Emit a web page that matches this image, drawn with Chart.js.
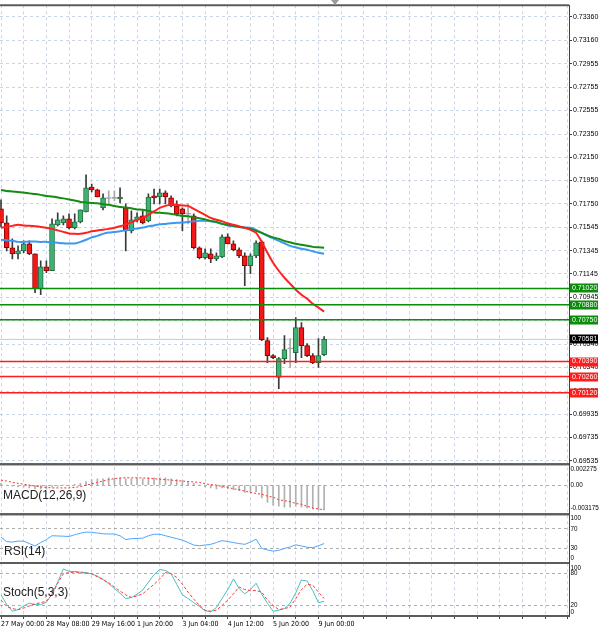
<!DOCTYPE html>
<html>
<head>
<meta charset="utf-8">
<script src="https://cdn.jsdelivr.net/npm/chart.js@4.4.1/dist/chart.umd.min.js"></script>
<style>
  html, body { margin: 0; padding: 0; background: #fff; }
</style>
</head>
<body>
<canvas id="chart" width="600" height="631"></canvas>
<script>
// H4 candles, 27 May 00:00 .. 9 Jun 04:00
const openP = [0.71705,0.71585,0.71370,0.71318,0.71344,0.71404,0.71318,0.71017,0.71206,0.71172,
  0.71568,0.71585,0.71619,0.71542,0.71593,0.71679,0.71894,0.71869,0.71714,0.71795,
  0.71796,0.71791,0.71714,0.71516,0.71611,0.71645,0.71602,0.71817,0.71808,0.71843,
  0.71800,0.71731,0.71705,0.71660,0.71645,0.71370,0.71284,0.71318,0.71275,0.71292,
  0.71464,0.71404,0.71353,0.71301,0.71215,0.71301,0.71421,0.70570,0.70441,0.70252,
  0.70415,0.70499,0.70467,0.70682,0.70527,0.70441,0.70381,0.70450];
const highP = [0.71783,0.71645,0.71447,0.71387,0.71430,0.71430,0.71318,0.71258,0.71258,0.71619,
  0.71671,0.71645,0.71662,0.71662,0.71697,0.71998,0.71920,0.71877,0.71834,0.71860,
  0.71860,0.71886,0.71748,0.71688,0.71671,0.71688,0.71834,0.71877,0.71877,0.71860,
  0.71817,0.71774,0.71714,0.71748,0.71662,0.71378,0.71361,0.71361,0.71327,0.71482,
  0.71490,0.71430,0.71370,0.71327,0.71318,0.71430,0.71430,0.70596,0.70450,0.70424,
  0.70613,0.70587,0.70768,0.70725,0.70544,0.70458,0.70587,0.70604];
const lowP = [0.71550,0.71344,0.71275,0.71275,0.71327,0.71310,0.70983,0.70966,0.71155,0.71172,
  0.71559,0.71568,0.71533,0.71533,0.71585,0.71679,0.71851,0.71808,0.71697,0.71757,
  0.71774,0.71757,0.71344,0.71499,0.71593,0.71576,0.71593,0.71748,0.71748,0.71748,
  0.71722,0.71645,0.71516,0.71576,0.71361,0.71275,0.71275,0.71241,0.71258,0.71284,
  0.71404,0.71344,0.71284,0.71043,0.71146,0.71284,0.70570,0.70381,0.70415,0.70157,
  0.70372,0.70338,0.70381,0.70424,0.70432,0.70372,0.70338,0.70441];
const closeP = [0.71585,0.71370,0.71318,0.71344,0.71404,0.71318,0.71017,0.71206,0.71172,0.71576,
  0.71611,0.71619,0.71542,0.71593,0.71697,0.71886,0.71869,0.71808,0.71800,0.71795,
  0.71796,0.71808,0.71516,0.71611,0.71636,0.71585,0.71808,0.71800,0.71843,0.71808,
  0.71731,0.71662,0.71662,0.71660,0.71370,0.71284,0.71327,0.71275,0.71301,0.71464,
  0.71404,0.71353,0.71301,0.71215,0.71301,0.71413,0.70579,0.70441,0.70424,0.70415,
  0.70493,0.70499,0.70682,0.70527,0.70441,0.70381,0.70441,0.70581];

// moving averages
const maSlow = [0.71869,0.71860,0.71856,0.71851,0.71847,0.71839,0.71834,0.71826,0.71817,0.71813,
  0.71804,0.71796,0.71787,0.71778,0.71765,0.71761,0.71757,0.71753,0.71746,0.71740,
  0.71731,0.71722,0.71718,0.71710,0.71701,0.71697,0.71688,0.71675,0.71671,0.71667,
  0.71662,0.71654,0.71645,0.71641,0.71632,0.71624,0.71615,0.71602,0.71593,0.71576,
  0.71568,0.71559,0.71550,0.71542,0.71533,0.71516,0.71499,0.71477,0.71460,0.71447,
  0.71430,0.71417,0.71404,0.71396,0.71387,0.71378,0.71374,0.71370];
const maMid = [0.71439,0.71434,0.71430,0.71421,0.71421,0.71424,0.71424,0.71421,0.71421,0.71417,
  0.71413,0.71409,0.71407,0.71407,0.71421,0.71439,0.71460,0.71473,0.71490,0.71501,
  0.71507,0.71512,0.71520,0.71529,0.71537,0.71544,0.71555,0.71563,0.71572,0.71576,
  0.71581,0.71585,0.71587,0.71593,0.71598,0.71602,0.71602,0.71598,0.71589,0.71576,
  0.71563,0.71555,0.71550,0.71546,0.71542,0.71525,0.71499,0.71473,0.71451,0.71430,
  0.71409,0.71387,0.71374,0.71361,0.71353,0.71340,0.71327,0.71318];
const maFast = [0.71544,0.71550,0.71559,0.71568,0.71563,0.71559,0.71555,0.71550,0.71542,0.71533,
  0.71520,0.71507,0.71494,0.71490,0.71490,0.71499,0.71512,0.71520,0.71525,0.71533,
  0.71542,0.71555,0.71572,0.71589,0.71611,0.71628,0.71654,0.71684,0.71714,0.71731,
  0.71740,0.71740,0.71735,0.71731,0.71705,0.71679,0.71654,0.71628,0.71611,0.71598,
  0.71581,0.71568,0.71555,0.71542,0.71525,0.71499,0.71421,0.71327,0.71241,0.71172,
  0.71112,0.71060,0.71009,0.70966,0.70931,0.70888,0.70854,0.70820];

const resistLevels = [0.71020, 0.70880, 0.70750];
const supportLevels = [0.70390, 0.70260, 0.70120];

// MACD(12,26,9)
const macdHist = [0.0002,0.0000,-0.0001,-0.0002,-0.0002,-0.0003,-0.0004,-0.0004,-0.0004,-0.0002,
  -0.0001,0.0000,0.0000,0.0001,0.0002,0.0004,0.0006,0.0007,0.0007,0.0008,
  0.0008,0.0008,0.0007,0.0007,0.0008,0.0007,0.0008,0.0008,0.0008,0.0008,
  0.0007,0.0006,0.0005,0.0004,0.0002,0.0000,-0.0002,-0.0003,-0.0004,-0.0003,
  -0.0004,-0.0005,-0.0006,-0.0008,-0.0008,-0.0007,-0.0014,-0.0019,-0.0022,-0.0023,
  -0.0024,-0.0024,-0.0023,-0.0024,-0.0025,-0.0026,-0.0027,-0.0027];
const macdSignal = [0.00055,0.00045,0.0003,0.0002,0.0001,0.0,-0.0001,-0.0002,-0.00025,-0.0003,
  -0.0003,-0.0003,-0.0003,-0.00025,-0.00015,0.0,0.00015,0.0003,0.00045,0.0006,
  0.0007,0.00078,0.0008,0.0008,0.0008,0.00078,0.00076,0.0007,0.00065,0.0006,
  0.00055,0.0005,0.00045,0.0004,0.00035,0.0003,0.00015,0.00005,0.0,-0.00015,
  -0.00025,-0.0004,-0.0005,-0.00065,-0.0008,-0.0009,-0.001,-0.0012,-0.0013,-0.0016,
  -0.0017,-0.0018,-0.002,-0.0021,-0.0023,-0.0025,-0.0026,-0.0027];
const macdRange = [-0.003175, 0.002275];
const macdTickLabels = ['0.002275', '0.00', '-0.003175'];

// RSI(14)
const rsi = [53,44,43,45,45,40,35,42,48,56, 55.5,55,54.5,58,61,63.5,63,61.5,60,59.5,
  59.5,56,48,50,50.5,51,56,59,59,56, 53,50,47,42,37,35.5,37,38.4,42,46,
  44,42,40,38.4,43,49,30,27,24.5,26, 30,33,37.5,35,32.5,31.5,35.5,40];
const rsiLevels = [70, 30];
const rsiTickLabels = ['100', '70', '30', '0'];

// Stochastic(5,3,3)
const stochK = [40,22,9,12,19,24.5,21.5,21.5,26,42, 64,89,84.5,84,83,82,79.5,75.5,69,61,
  52,43,33,35,41,49,64,78,88,86, 80,60,40,33,25,18,10,8,16,33,
  50,70,52,42,50,62,41,24,9,11, 14,24,44,68,66,48,25,28];
const stochD = [30,18,14,12,15,19,23,25,28,40, 62,80,82,83,82,81,80,74,69,63,
  55,47,40,35,38,42,51,60,70,82, 80,73,60,45,32,20,11,9,11,20,
  30,42,55,50,48,48,45,30,20,12, 14,17,33,50,60,58,45,33];
const stochLevels = [80, 20];
const stochTickLabels = ['100', '80', '20', '0'];

// axis labels
const priceTicks = [0.73360,0.73160,0.72955,0.72755,0.72555,0.72350,0.72150,0.71950,0.71750,0.71545,
  0.71345,0.71145,0.70945,0.70740,0.70540,0.70340,0.70135,0.69935,0.69735,0.69535];
const timeLabels = ['27 May 00:00','28 May 08:00','29 May 16:00','1 Jun 20:00','3 Jun 04:00','4 Jun 12:00','5 Jun 20:00','9 Jun 00:00'];

const FONT = '"Liberation Sans", Arial, sans-serif';
const gridColor = 'rgba(165,185,210,0.6)';
const levelGrid = 'rgba(140,140,140,0.7)';
const X_MIN = -0.18, X_MAX = 100.2;

const idx = openP.map((_, i) => i);
const pts = arr => idx.map(i => ({ x: i, y: arr[i] }));
const flat = v => [{ x: X_MIN, y: v }, { x: X_MAX, y: v }];

function bodyFill(c) {
  const i = c.dataIndex;
  if (closeP[i] > openP[i]) return '#3cb371';
  if (closeP[i] < openP[i]) return '#f21818';
  return '#a0a0a0';
}
function bodyEdge(c) {
  const i = c.dataIndex;
  if (closeP[i] > openP[i]) return '#236b43';
  if (closeP[i] < openP[i]) return '#8b0000';
  return '#a0a0a0';
}

const datasets = [
  { type: 'bar', data: idx.map(i => ({ x: i, y: [lowP[i], highP[i]] })),
    backgroundColor: c => openP[c.dataIndex] === closeP[c.dataIndex] ? '#a8a8a8' : '#3a3a3a',
    barThickness: 1, grouped: false, order: 11, yAxisID: 'y' },
  { type: 'bar', data: idx.map(i => ({ x: i, y: [openP[i], closeP[i]] })),
    backgroundColor: bodyFill, borderColor: bodyEdge, borderWidth: 1, borderSkipped: false,
    barThickness: 5, minBarLength: 1, grouped: false, order: 10, yAxisID: 'y' },
  { type: 'line', data: pts(maSlow), borderColor: '#148c14', borderWidth: 2, pointRadius: 0, tension: 0.2, order: 4, yAxisID: 'y' },
  { type: 'line', data: pts(maMid), borderColor: '#3a98f0', borderWidth: 2, pointRadius: 0, tension: 0.2, order: 4, yAxisID: 'y' },
  { type: 'line', data: pts(maFast), borderColor: '#ff2020', borderWidth: 2, pointRadius: 0, tension: 0.2, order: 3, yAxisID: 'y' },
  { type: 'line', data: flat(closeP[closeP.length - 1]), borderColor: '#c4ccd6', borderWidth: 1, pointRadius: 0, order: 12, yAxisID: 'y' }
];
resistLevels.forEach(v => datasets.push({ type: 'line', data: flat(v), borderColor: '#0b8c0b', borderWidth: 1.5, pointRadius: 0, order: 1, yAxisID: 'y' }));
supportLevels.forEach(v => datasets.push({ type: 'line', data: flat(v), borderColor: '#ff1c1c', borderWidth: 1.5, pointRadius: 0, order: 1, yAxisID: 'y' }));

datasets.push(
  { type: 'bar', data: pts(macdHist), backgroundColor: '#b0b0b0', barThickness: 1, grouped: false, order: 6, yAxisID: 'yMacd' },
  { type: 'line', data: pts(macdSignal), borderColor: '#ff3030', borderWidth: 1, borderDash: [2, 2], pointRadius: 0, order: 5, yAxisID: 'yMacd' },
  { type: 'line', data: pts(rsi), borderColor: '#4fa6ff', borderWidth: 1, pointRadius: 0, order: 5, yAxisID: 'yRsi' },
  { type: 'line', data: pts(stochK), borderColor: '#45c2c2', borderWidth: 1, pointRadius: 0, order: 5, yAxisID: 'yStoch' },
  { type: 'line', data: pts(stochD), borderColor: '#ff3a3a', borderWidth: 1, borderDash: [3, 2], pointRadius: 0, order: 4, yAxisID: 'yStoch' }
);

const smallTicks = { font: { family: FONT, size: 6.3 }, color: '#000', padding: 1.5, autoSkip: false };

function subPanel(weight, min, max, labels, gridVals, top, bottom) {
  return {
    type: 'linear', position: 'right', stack: 'panels', stackWeight: weight,
    min: min, max: max,
    afterBuildTicks: s => {
      const r = s.max - s.min;
      const vals = [s.max - r * top].concat(gridVals, [s.min + r * bottom]);
      s.ticks = vals.map(v => ({ value: v }));
    },
    afterFit: s => { s.width = 31; },
    ticks: Object.assign({}, smallTicks, { callback: (v, i) => labels[i] }),
    grid: { drawTicks: false, color: c => (c.tick && gridVals.includes(c.tick.value)) ? levelGrid : 'transparent' },
    border: { display: true, color: '#404040', dash: [3, 3] }
  };
}

const panelDeco = {
  id: 'panelDeco',
  beforeDraw(chart) {
    const ctx = chart.ctx;
    ctx.save();
    ctx.fillStyle = '#fff';
    ctx.fillRect(0, 0, chart.width, chart.height);
    ctx.restore();
  },
  afterDraw(chart) {
    const { ctx, chartArea, scales } = chart;
    ctx.save();
    ctx.strokeStyle = '#5c5c5c';
    ctx.lineWidth = 2;
    ['y', 'yMacd', 'yRsi', 'yStoch'].forEach(id => {
      const s = scales[id];
      ctx.beginPath();
      ctx.moveTo(0, s.top); ctx.lineTo(chartArea.right, s.top);
      ctx.moveTo(0, s.bottom); ctx.lineTo(chartArea.right, s.bottom);
      ctx.stroke();
    });

    // indicator names
    ctx.fillStyle = '#222';
    ctx.font = '12px ' + FONT;
    ctx.textBaseline = 'middle';
    ctx.textAlign = 'left';
    ctx.fillText('MACD(12,26,9)', 3, scales.yMacd.top + 31);
    ctx.fillText('RSI(14)', 4, scales.yRsi.top + 37);
    ctx.fillText('Stoch(5,3,3)', 3, scales.yStoch.top + 30);

    // price tags on the right axis
    ctx.font = '7px ' + FONT;
    const tag = (v, fill) => {
      const py = scales.y.getPixelForValue(v);
      ctx.fillStyle = fill;
      ctx.fillRect(chartArea.right + 1, Math.round(py) - 4.5, 28, 9);
      ctx.fillStyle = '#fff';
      ctx.fillText(v.toFixed(5), chartArea.right + 3, py);
    };
    resistLevels.forEach(v => tag(v, '#0b8c0b'));
    supportLevels.forEach(v => tag(v, '#ff1c1c'));
    tag(closeP[closeP.length - 1], '#000');

    // chart shift marker
    ctx.fillStyle = '#9a9a9a';
    ctx.beginPath();
    ctx.moveTo(331, 0); ctx.lineTo(339, 0); ctx.lineTo(335, 5); ctx.closePath();
    ctx.fill();
    ctx.restore();
  }
};

new Chart(document.getElementById('chart'), {
  type: 'bar',
  data: { datasets: datasets },
  options: {
    responsive: false,
    animation: false,
    events: [],
    layout: { padding: { top: 4, left: 0, right: 0, bottom: 0 } },
    plugins: { legend: { display: false }, tooltip: { enabled: false } },
    scales: {
      x: {
        type: 'linear', min: X_MIN, max: X_MAX, offset: false,
        afterBuildTicks: s => {
          const t = [];
          for (let i = 0; i <= 100; i += 4) t.push({ value: i });
          s.ticks = t;
        },
        afterFit: s => { s.height = 15; },
        ticks: {
          autoSkip: false, maxRotation: 0, align: 'start', padding: 1,
          font: { family: '"Liberation Sans Narrow", "DejaVu Sans Condensed", sans-serif', size: 7 }, color: '#000',
          callback: v => (v % 8 === 0 && timeLabels[v / 8]) || ''
        },
        grid: { offset: false, color: gridColor, tickColor: '#404040', tickLength: 3 },
        border: { display: true, color: '#404040', dash: [3, 3] }
      },
      y: {
        type: 'linear', position: 'right', stack: 'panels', stackWeight: 460,
        min: 0.69504, max: 0.73460,
        afterBuildTicks: s => { s.ticks = priceTicks.map(v => ({ value: v })); },
        afterFit: s => { s.width = 31; },
        ticks: Object.assign({}, smallTicks, { font: { family: FONT, size: 7 }, padding: 1, callback: v => v.toFixed(5) }),
        grid: { color: gridColor, tickColor: '#404040', tickLength: 3 },
        border: { display: true, color: '#404040', dash: [3, 3] }
      },
      yMacd: subPanel(50, macdRange[0], macdRange[1], macdTickLabels, [0], 0.09, 0.12),
      yRsi: subPanel(49, 0, 100, rsiTickLabels, rsiLevels, 0.085, 0.1),
      yStoch: subPanel(53, 0, 100, stochTickLabels, stochLevels, 0.1, 0.08)
    }
  },
  plugins: [panelDeco]
});
</script>
</body>
</html>
